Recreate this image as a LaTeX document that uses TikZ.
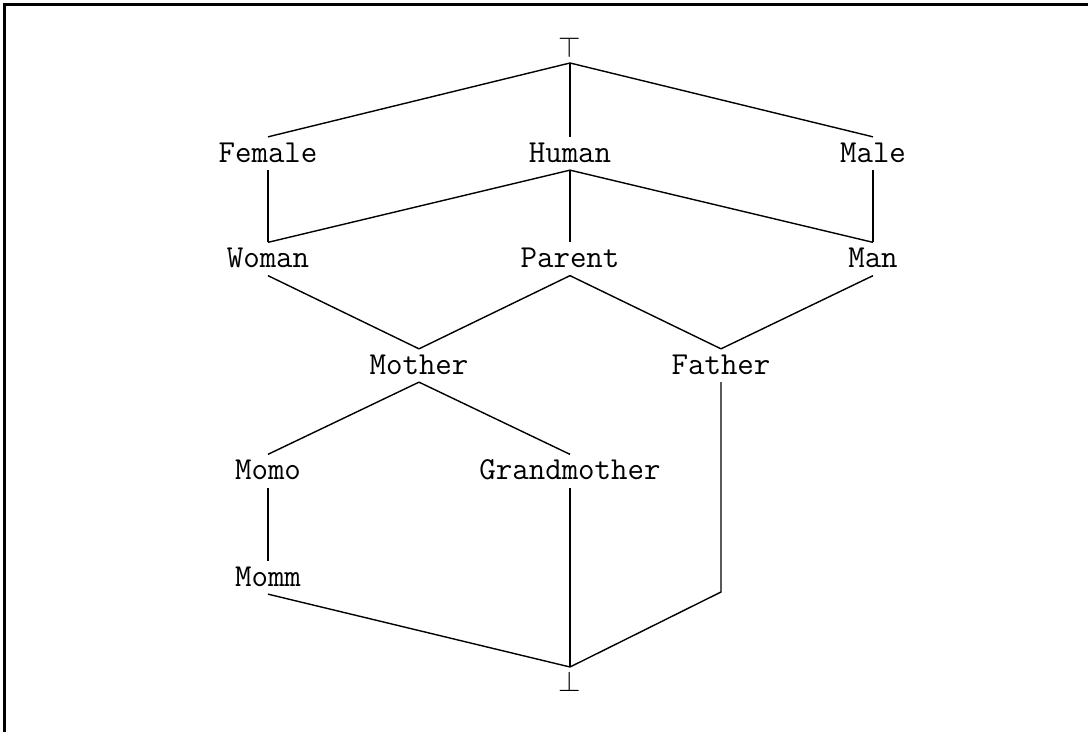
\documentclass[tikz,border=0pt]{standalone}
\begin{document}
\begin{tikzpicture}[x=0.5pt,y=-0.5pt,
  lbl/.style={font=\fontsize{16}{19}\selectfont\ttfamily, inner xsep=2pt, inner ysep=0pt, text height=12.5pt, text depth=3.75pt},
  sym/.style={font=\fontsize{15}{18}\selectfont, inner sep=0pt},
  edge/.style={line width=0.7pt}]
\useasboundingbox (0,0) rectangle (1088,732);
\draw[line width=1.2pt] (4.5,732) -- (4.5,4.5) -- (1088,4.5);
% nodes
\node[sym, anchor=south, text depth=2.5pt] (top) at (570,63) {$\top$};
\node[sym, anchor=north, text height=12pt, text depth=0pt] (bot) at (570,667) {$\bot$};
\node[lbl] (Female) at (268,153.5) {Female};
\node[lbl] (Human) at (570,153.5) {Human};
\node[lbl] (Male) at (873,153.5) {Male};
\node[lbl] (Woman) at (268,259) {Woman};
\node[lbl] (Parent) at (570,259) {Parent};
\node[lbl] (Man) at (873,259) {Man};
\node[lbl] (Mother) at (419,365.5) {Mother};
\node[lbl] (Father) at (721,365.5) {Father};
\node[lbl] (Momo) at (268,471) {Momo};
\node[lbl] (Grandmother) at (570,471) {Grandmother};
\node[lbl] (Momm) at (268,577.5) {Momm};
\coordinate (d) at (721,592);
% edges
\draw[edge] (top.south) -- (Female.north);
\draw[edge] (top.south) -- (Human.north);
\draw[edge] (top.south) -- (Male.north);
\draw[edge] (Female.south) -- (Woman.north);
\draw[edge] (Human.south) -- (Woman.north);
\draw[edge] (Human.south) -- (Parent.north);
\draw[edge] (Human.south) -- (Man.north);
\draw[edge] (Male.south) -- (Man.north);
\draw[edge] (Woman.south) -- (Mother.north);
\draw[edge] (Parent.south) -- (Mother.north);
\draw[edge] (Parent.south) -- (Father.north);
\draw[edge] (Man.south) -- (Father.north);
\draw[edge] (Mother.south) -- (Momo.north);
\draw[edge] (Mother.south) -- (Grandmother.north);
\draw[edge] (Momo.south) -- (Momm.north);
\draw[edge] (Momm.south) -- (bot.north);
\draw[edge] (Grandmother.south) -- (bot.north);
\draw[edge] (Father.south) -- (d) -- (bot.north);
\end{tikzpicture}
\end{document}
